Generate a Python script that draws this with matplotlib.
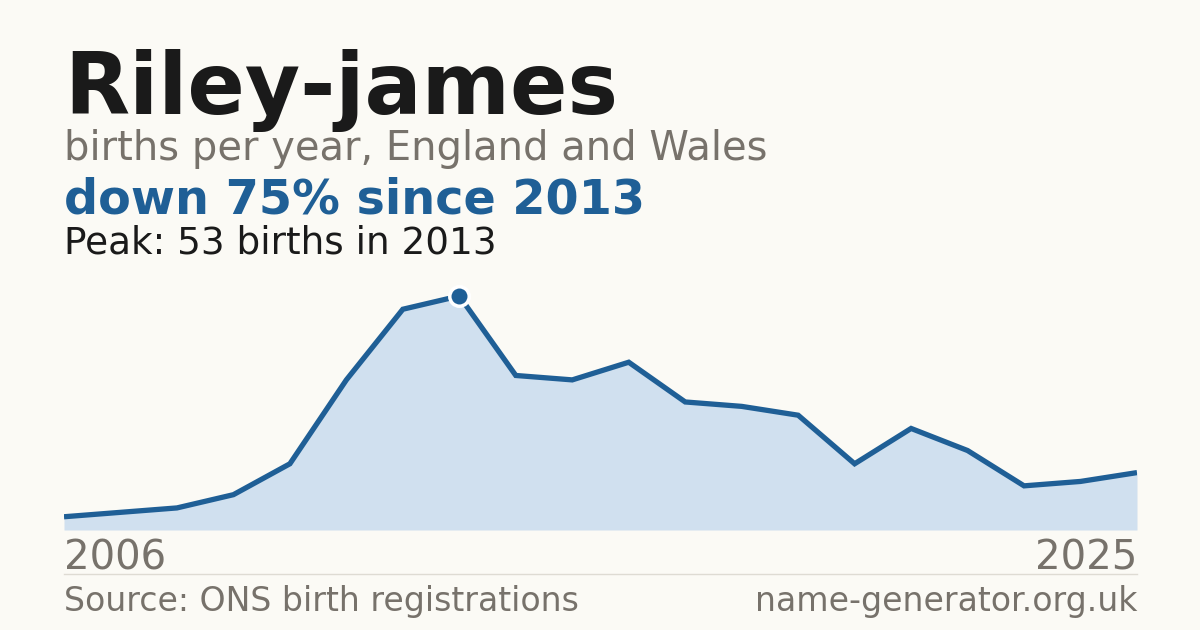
import matplotlib.pyplot as plt

years = list(range(2006, 2026))
births = [3, 4, 5, 8, 15, 34, 50, 53, 35, 34, 38, 29, 28, 26, 15, 23, 18, 10, 11, 13]
name = "Riley-james"
subtitle = "births per year, England and Wales"
headline = "down 75% since 2013"
peak_note = "Peak: 53 births in 2013"
source = "Source: ONS birth registrations"
site = "name-generator.org.uk"

BG = "#fbfaf5"
BLUE = "#1f5f96"
FILL = "#d0e0ef"
GREY = "#77726b"
INK = "#1a1a1a"

W, H = 1200, 630
fig = plt.figure(figsize=(W / 100, H / 100), dpi=100, facecolor=BG)


def fy(py):
    return 1 - py / H


# chart area: x 64..1137 px, baseline at 530 px, peak at 296 px
ax = fig.add_axes([64 / W, fy(530), (1137 - 64) / W, (530 - 296) / H])
ax.set_facecolor(BG)
ax.fill_between(years, births, 0, color=FILL, lw=0)
ax.plot(years, births, color=BLUE, lw=3.8, solid_joinstyle="miter", solid_capstyle="butt")
peak_i = births.index(max(births))
ax.plot(years[peak_i], births[peak_i], "o", ms=14, color=BLUE, mec="white", mew=2.5,
        clip_on=False, zorder=5)
ax.set_xlim(years[0], years[-1])
ax.set_ylim(0, max(births))
ax.axis("off")

fig.text(64 / W, fy(114), name, fontsize=61, fontweight="bold", color=INK, va="baseline")
fig.text(64 / W, fy(160), subtitle, fontsize=28.8, color=GREY, va="baseline")
fig.text(64 / W, fy(214), headline, fontsize=34.4, fontweight="bold", color=BLUE, va="baseline")
fig.text(64 / W, fy(254), peak_note, fontsize=26.9, color=INK, va="baseline")

fig.text(64 / W, fy(569), str(years[0]), fontsize=29, color=GREY, va="baseline")
fig.text(1137 / W, fy(569), str(years[-1]), fontsize=29, color=GREY, va="baseline", ha="right")

fig.add_artist(plt.Line2D([64 / W, 1137 / W], [fy(574), fy(574)], color="#dedbd3", lw=1))

fig.text(64 / W, fy(611), source, fontsize=23.9, color=GREY, va="baseline")
fig.text(1137 / W, fy(611), site, fontsize=23.9, color=GREY, va="baseline", ha="right")

fig.savefig("out.png", dpi=100, facecolor=BG)
